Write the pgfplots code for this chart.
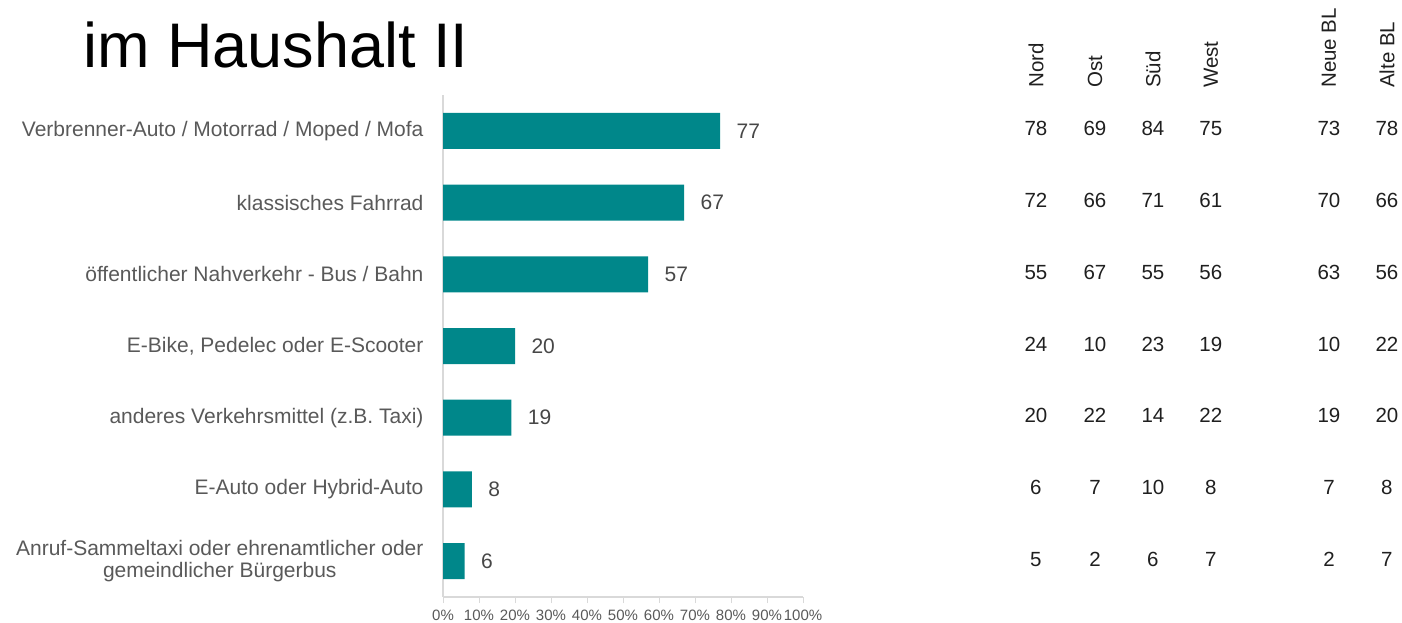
\documentclass[border=0pt]{standalone}
\usepackage{pgfplots}
\pgfplotsset{compat=1.18}
\usepackage{pgfplotstable}
\usepackage{fontspec}
\setmainfont{Liberation Sans}
\definecolor{barc}{HTML}{00878A}
\definecolor{lab}{HTML}{595959}
\definecolor{axl}{HTML}{D9D9D9}
\definecolor{num}{HTML}{1F1F1F}

\pgfplotstableread{
y main nord ost sued west neu alt
0 77 78 69 84 75 73 78
1 67 72 66 71 61 70 66
2 57 55 67 55 56 63 56
3 20 24 10 23 19 10 22
4 19 20 22 14 22 19 20
5 8 6 7 10 8 7 8
6 6 5 2 6 7 2 7
}\data

\begin{document}
\begin{tikzpicture}[x=1pt,y=1pt]
\useasboundingbox (0,0) rectangle (1402,623);
\node[anchor=base west, inner sep=0, font=\fontsize{63}{63}\selectfont] at (83,555) {im Haushalt II};
\foreach \xx/\tt in {1036/Nord,1095/Ost,1153/Süd,1211/West,1329/Neue BL,1387/Alte BL}{
  \node[rotate=90, anchor=west, inner sep=0, font=\fontsize{20.5}{20.5}\selectfont, text=num] at (\xx,535) {\tt};
}
\begin{axis}[
  at={(443pt,26pt)}, anchor=south west,
  scale only axis, width=360pt, height=502pt,
  xmin=0, xmax=100, ymin=-0.5, ymax=6.5, y dir=reverse,
  clip=false,
  /pgf/number format/assume math mode=true,
  axis lines*=left,
  axis line style={draw=axl, line width=1.2pt},
  xtick={0,10,...,100},
  xticklabel={\pgfmathprintnumber{\tick}\%},
  x tick style={draw=axl, line width=1pt},
  major tick length=6pt,
  tick align=outside,
  xticklabel style={font=\fontsize{15}{15}\selectfont, text=lab, yshift=-3pt},
  ytick={0,...,6},
  y tick style={draw=none},
  yticklabels={Verbrenner-Auto / Motorrad / Moped / Mofa, klassisches Fahrrad, öffentlicher Nahverkehr - Bus / Bahn, {E-Bike, Pedelec oder E-Scooter}, anderes Verkehrsmittel (z.B. Taxi), E-Auto oder Hybrid-Auto, {Anruf-Sammeltaxi oder ehrenamtlicher oder\\gemeindlicher Bürgerbus}},
  yticklabel style={font=\fontsize{21}{22.5}\selectfont, text=lab, align=center, xshift=-10pt},
]
\addplot[xbar, bar width=36pt, fill=barc, draw=none,
  nodes near coords,
  nodes near coords style={anchor=west, xshift=13pt, font=\fontsize{21}{21}\selectfont, text=lab!80!black}]
  table[x=main, y=y] {\data};
\foreach \col/\xp in {nord/164.7, ost/181.1, sued/197.2, west/213.3, neu/246.1, alt/262.2}{
  \edef\tmp{\noexpand\addplot[draw=none, mark=none, nodes near coords, point meta=explicit symbolic,
    nodes near coords style={anchor=center, yshift=2pt, font=\noexpand\fontsize{20.5}{20.5}\noexpand\selectfont, text=num}]
    table[x expr=\xp, y=y, meta=\col] {\noexpand\data};}
  \tmp
}
\end{axis}
\end{tikzpicture}
\end{document}
